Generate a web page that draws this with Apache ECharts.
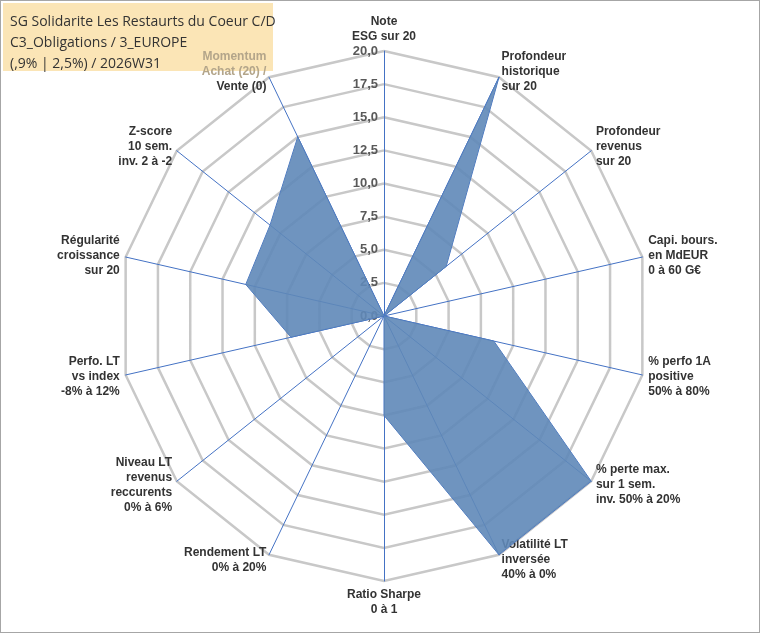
<!DOCTYPE html>
<html>
<head>
<meta charset="utf-8">
<script src="https://cdn.jsdelivr.net/npm/echarts@6/dist/echarts.min.js"></script>
<style>
  html, body { margin:0; padding:0; background:#fff; }
  #main { width:758px; height:631px; border:1px solid #a6a6a6; }
</style>
</head>
<body>
<div id="main"></div>
<script>
var axisNames = [
  'Note\nESG sur 20',
  'Profondeur\nhistorique\nsur 20',
  'Profondeur\nrevenus\nsur 20',
  'Capi. bours.\nen MdEUR\n0 à 60 G€',
  '% perfo 1A\npositive\n50% à 80%',
  '% perte max.\nsur 1 sem.\ninv. 50% à 20%',
  'Volatilité LT\ninversée\n40% à 0%',
  'Ratio Sharpe\n0 à 1',
  'Rendement LT\n0% à 20%',
  'Niveau LT\nrevenus\nreccurents\n0% à 6%',
  'Perfo. LT\nvs index\n-8% à 12%',
  'Régularité\ncroissance\nsur 20',
  'Z-score\n10 sem.\ninv. 2 à -2',
  '{g|Momentum}\n{g|Achat (20) /}\nVente (0)'
];
var scores = [0, 20, 6, 0, 8.5, 20, 20, 7.5, 0, 0, 7.2, 10.7, 11, 15];
var maxScore = 20;
var titleLines = ['SG Solidarite Les Restaurts du Coeur C/D', 'C3_Obligations / 3_EUROPE', '(,9% | 2,5%) / 2026W31'];

// ECharts radar runs counter-clockwise; the reference runs clockwise
var order = [0];
for (var k = axisNames.length - 1; k > 0; k--) order.push(k);

var chart = echarts.init(document.getElementById('main'));
var indicators = order.map(function (i) {
  var o = { name: axisNames[i], max: maxScore, min: 0 };
  if (i > 0) o.axisLabel = { show: false };
  return o;
});
var values = order.map(function (i) { return scores[i]; });

chart.setOption({
  animation: false,
  graphic: [{
    type: 'rect', left: 2, top: 2, shape: { width: 270, height: 68 },
    style: { fill: '#fbe5b6' }, z: 0
  }],
  title: {
    text: titleLines.join('\n'), left: 4, top: 6,
    textStyle: { fontFamily: 'Open Sans', fontSize: 14, fontWeight: 'normal', color: '#333', lineHeight: 21 }
  },
  radar: {
    center: [383, 315],
    radius: 265,
    startAngle: 90,
    splitNumber: 8,
    shape: 'polygon',
    indicator: indicators,
    axisName: {
      color: '#333', fontWeight: 'bold', fontSize: 12, fontFamily: 'Liberation Sans', lineHeight: 15,
      rich: { g: { color: '#b3a58a', fontWeight: 'bold', fontSize: 12, lineHeight: 15 } }
    },
    nameGap: 6,
    splitArea: { show: false },
    splitLine: { lineStyle: { color: '#c8c8c8', width: 2.5 } },
    axisLine: { lineStyle: { color: '#4472c4', width: 1 } },
    axisTick: { show: false },
    axisLabel: {
      show: true, color: '#595959', fontWeight: 'bold', fontSize: 13, margin: 6, align: 'right',
      formatter: function (v) { return v.toFixed(1).replace('.', ','); }
    }
  },
  series: [{
    type: 'radar',
    symbol: 'none',
    lineStyle: { color: '#4472c4', width: 1 },
    areaStyle: { color: '#5f88b8', opacity: 0.9 },
    data: [{ value: values }]
  }]
});
</script>
</body>
</html>
